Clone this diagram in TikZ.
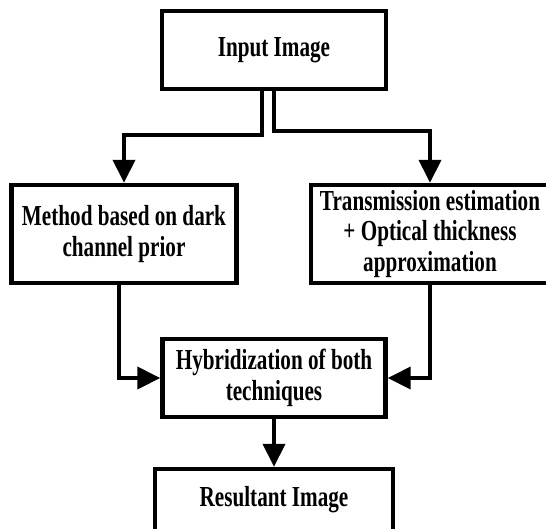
\documentclass[tikz,border=0pt]{standalone}
\usepackage{fontspec}
\setmainfont[FakeStretch=0.73]{Liberation Serif}
\usepackage{tikz}
\usetikzlibrary{arrows.meta, positioning}

\begin{document}
\begin{tikzpicture}[x=0.02cm, y=-0.02cm,
	box/.style={rectangle, draw=black, line width=0.09cm, fill=white, align=center,
		font=\fontsize{16.5}{17.5}\selectfont\bfseries, inner sep=0pt},
	conn/.style={->, >={Triangle[length=0.46cm, width=0.44cm]}, line width=0.08cm}]
	
	\path[use as bounding box, clip] (0,0) rectangle (546,528);
	
	\node[box, minimum width=4.48cm, minimum height=1.56cm] (inp) at (274,50) {Input Image};
	\node[box, minimum width=4.5cm, minimum height=1.96cm] (dcp) at (124,234) {Method based on dark\\channel prior};
	\node[box, minimum width=4.76cm, minimum height=1.96cm] (tra) at (430,234) {Transmission estimation\\+ Optical thickness\\approximation};
	\node[box, minimum width=4.46cm, minimum height=1.56cm] (hyb) at (274,378) {Hybridization of both\\techniques};
	\node[box, minimum width=4.76cm, minimum height=1.24cm] (res) at (274,500) {Resultant Image};
	
	\draw[conn] ([xshift=-0.24cm]inp.south) -- ++(0,44) -| (dcp.north);
	\draw[conn] (inp.south) -- ++(0,40) -| (tra.north);
	\draw[conn] ([xshift=-0.1cm]dcp.south) |- (hyb.west);
	\draw[conn] (tra.south) |- (hyb.east);
	\draw[conn] (hyb) -- (res);
\end{tikzpicture}
\end{document}
